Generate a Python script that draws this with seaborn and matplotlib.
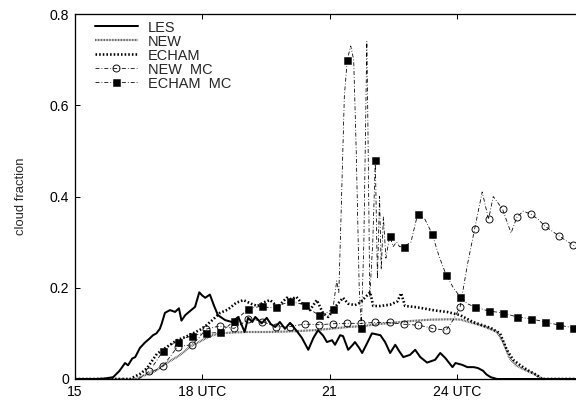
import numpy as np
import pandas as pd
import matplotlib
matplotlib.use("Agg")
import matplotlib.pyplot as plt
import seaborn as sns

# ---- data: cloud fraction vs. time (UTC hours) ----
les_t = [15.0, 15.5, 15.7, 15.9, 16.05, 16.18, 16.25, 16.35, 16.42, 16.53, 16.65, 16.75,
         16.84, 16.92, 17.0, 17.05, 17.12, 17.24, 17.36, 17.45, 17.51, 17.6, 17.7, 17.83,
         17.93, 18.0, 18.07, 18.18, 18.28, 18.37, 18.54, 18.7, 18.85, 19.0, 19.08, 19.18,
         19.25, 19.4, 19.52, 19.62, 19.72, 19.83, 19.95, 20.07, 20.23, 20.35, 20.5, 20.62,
         20.73, 20.85, 20.94, 21.06, 21.13, 21.25, 21.32, 21.44, 21.55, 21.6, 21.7, 21.77,
         21.9, 22.0, 22.1, 22.2, 22.31, 22.43, 22.55, 22.65, 22.74, 22.9, 23.02, 23.14,
         23.3, 23.49, 23.61, 23.73, 23.9, 23.97, 24.13, 24.25, 24.4, 24.5, 24.62, 24.7,
         24.8, 24.95, 27.0]
les_cf = [0.0, 0.0, 0.001, 0.004, 0.018, 0.035, 0.03, 0.045, 0.048, 0.068, 0.08, 0.088,
          0.096, 0.1, 0.11, 0.123, 0.145, 0.151, 0.147, 0.155, 0.128, 0.14, 0.148, 0.158,
          0.19, 0.183, 0.178, 0.185, 0.16, 0.14, 0.129, 0.125, 0.136, 0.103, 0.134, 0.125,
          0.136, 0.122, 0.134, 0.12, 0.114, 0.125, 0.11, 0.123, 0.105, 0.09, 0.064, 0.09,
          0.107, 0.095, 0.081, 0.085, 0.075, 0.096, 0.094, 0.064, 0.075, 0.081, 0.068, 0.057,
          0.081, 0.1, 0.098, 0.096, 0.081, 0.057, 0.075, 0.06, 0.048, 0.053, 0.064, 0.048,
          0.036, 0.042, 0.057, 0.046, 0.026, 0.035, 0.031, 0.026, 0.026, 0.024, 0.018, 0.01,
          0.004, 0.0, 0.0]

new_t = [15.0, 16.45, 16.55, 16.75, 16.9, 17.08, 17.25, 17.4, 17.55, 17.7, 17.9, 18.1,
         18.25, 18.42, 18.73, 19.05, 19.5, 20.0, 20.66, 21.0, 21.44, 21.8, 22.1, 22.48,
         22.9, 23.37, 23.92, 24.1, 24.25, 24.48, 24.7, 24.95, 25.1, 25.25, 25.4, 25.6,
         25.8, 25.95, 26.05, 27.0]
new_cf = [0.0, 0.0, 0.005, 0.012, 0.018, 0.03, 0.04, 0.048, 0.058, 0.07, 0.08, 0.09,
          0.096, 0.1, 0.102, 0.103, 0.103, 0.104, 0.107, 0.11, 0.114, 0.116, 0.12, 0.123,
          0.127, 0.13, 0.131, 0.13, 0.126, 0.12, 0.113, 0.103, 0.08, 0.045, 0.03, 0.02,
          0.012, 0.004, 0.0, 0.0]

echam_t = [15.0, 16.3, 16.4, 16.55, 16.7, 16.93, 17.16, 17.4, 17.6, 17.78, 17.95, 18.1,
           18.25, 18.42, 18.6, 18.8, 18.97, 19.15, 19.3, 19.45, 19.6, 19.78, 19.99, 20.1,
           20.22, 20.38, 20.54, 20.7, 20.85, 20.97, 21.17, 21.32, 21.44, 21.6, 21.72, 21.85,
           21.96, 22.03, 22.2, 22.43, 22.6, 22.69, 22.78, 23.0, 23.2, 23.5, 23.77, 24.08,
           24.38, 24.6, 24.8, 25.02, 25.18, 25.33, 25.5, 25.66, 25.9, 26.0, 27.0]
echam_cf = [0.0, 0.0, 0.005, 0.012, 0.024, 0.055, 0.07, 0.085, 0.092, 0.1, 0.108, 0.118,
            0.13, 0.145, 0.152, 0.167, 0.173, 0.165, 0.16, 0.168, 0.173, 0.158, 0.178, 0.175,
            0.18, 0.162, 0.151, 0.173, 0.144, 0.136, 0.162, 0.178, 0.165, 0.162, 0.167, 0.18,
            0.19, 0.16, 0.16, 0.163, 0.17, 0.188, 0.16, 0.158, 0.155, 0.15, 0.147, 0.14,
            0.125, 0.118, 0.112, 0.1, 0.064, 0.042, 0.03, 0.02, 0.008, 0.0, 0.0]

new_mc_t = [16.5, 16.75, 16.92, 17.08, 17.25, 17.42, 17.58, 17.75, 17.92, 18.08, 18.25,
            18.42, 18.6, 18.75, 18.92, 19.08, 19.25, 19.42, 19.58, 19.75, 19.92, 20.08,
            20.25, 20.42, 20.58, 20.75, 20.92, 21.08, 21.25, 21.42, 21.58, 21.75, 21.92,
            22.08, 22.25, 22.42, 22.58, 22.75, 22.92, 23.08, 23.25, 23.42, 23.58, 23.75,
            23.92, 24.08, 24.25, 24.42, 24.6, 24.75, 24.86, 25.08, 25.28, 25.42, 25.57,
            25.75, 25.92, 26.08, 26.25, 26.42, 26.58, 26.75, 27.0]
new_mc_cf = [0.0, 0.017, 0.02, 0.029, 0.05, 0.071, 0.073, 0.075, 0.09, 0.109, 0.113,
             0.116, 0.113, 0.111, 0.12, 0.132, 0.13, 0.126, 0.12, 0.114, 0.115, 0.115,
             0.118, 0.12, 0.12, 0.119, 0.12, 0.121, 0.122, 0.122, 0.122, 0.122, 0.123,
             0.124, 0.124, 0.124, 0.122, 0.12, 0.119, 0.118, 0.115, 0.111, 0.109, 0.107,
             0.13, 0.158, 0.25, 0.328, 0.41, 0.35, 0.40, 0.372, 0.32, 0.355, 0.368,
             0.361, 0.35, 0.335, 0.324, 0.313, 0.303, 0.293, 0.28]

echam_mc_t = [16.85, 17.08, 17.25, 17.42, 17.58, 17.75, 17.92, 18.08, 18.25, 18.42, 18.6,
              18.75, 18.92, 19.08, 19.25, 19.42, 19.58, 19.75, 19.92, 20.08, 20.25, 20.42,
              20.58, 20.75, 20.92, 21.08, 21.17, 21.22, 21.27, 21.35, 21.42, 21.5, 21.57,
              21.63, 21.7, 21.75, 21.81, 21.88, 21.9, 21.95, 22.02, 22.08, 22.13, 22.18,
              22.22, 22.27, 22.33, 22.42, 22.5, 22.58, 22.65, 22.75, 22.92, 23.08, 23.25,
              23.42, 23.58, 23.75, 23.92, 24.08, 24.25, 24.42, 24.75, 25.08, 25.42, 25.75,
              26.08, 26.42, 26.75, 27.0]
echam_mc_cf = [0.03, 0.062, 0.075, 0.081, 0.09, 0.094, 0.098, 0.1, 0.101, 0.103, 0.115,
               0.128, 0.14, 0.153, 0.157, 0.16, 0.156, 0.158, 0.165, 0.17, 0.166, 0.163,
               0.15, 0.14, 0.145, 0.153, 0.215, 0.19, 0.35, 0.62, 0.70, 0.73, 0.70,
               0.5, 0.2, 0.112, 0.3, 0.74, 0.6, 0.18, 0.3, 0.48, 0.22, 0.40,
               0.24, 0.355, 0.265, 0.314, 0.29, 0.3, 0.29, 0.29, 0.3, 0.362, 0.35,
               0.318, 0.27, 0.228, 0.2, 0.18, 0.165, 0.158, 0.149, 0.145, 0.136, 0.132,
               0.125, 0.118, 0.112, 0.108]

x_ticks = [15, 18, 21, 24]
x_tick_labels = ["15", "18 UTC", "21", "24 UTC"]
y_ticks = [0, 0.2, 0.4, 0.6, 0.8]
y_tick_labels = ["0", "0.2", "0.4", "0.6", "0.8"]

# ---- style ----
sns.set_style("ticks", {"xtick.direction": "in", "ytick.direction": "in"})
plt.rcParams["font.family"] = ["Liberation Sans", "DejaVu Sans"]
plt.rcParams["font.size"] = 14

fig = plt.figure(figsize=(8.0, 406 / 72), dpi=72)
ax = fig.add_axes([75 / 576, 1 - 379 / 406, (584 - 75) / 576, (379 - 14) / 406])


def mark_idx(times, start=16.75):
    """Indices of samples that fall on the 20-minute output grid."""
    k = (np.asarray(times) - start) * 3.0
    return [i for i, v in enumerate(k) if abs(v - round(v)) < 0.05 and round(v) >= 0]


def draw(t, cf, label, **kw):
    df = pd.DataFrame({"time": t, "cf": cf})
    sns.lineplot(data=df, x="time", y="cf", ax=ax, sort=False, estimator=None,
                 color="black", label=label, **kw)


draw(les_t, les_cf, "LES", linewidth=2.0, linestyle="-")
draw(new_t, new_cf, "NEW", linewidth=2.2, linestyle=(0, (0.35, 0.35)), alpha=0.75)
draw(echam_t, echam_cf, "ECHAM", linewidth=2.6, linestyle=(0, (0.6, 0.8)))
draw(new_mc_t, new_mc_cf, "NEW  MC", linewidth=0.8, linestyle=(0, (5, 2.5, 1, 2.5)),
     marker="o", markersize=7, markerfacecolor="none", markeredgecolor="black",
     markeredgewidth=0.9, markevery=mark_idx(new_mc_t))
draw(echam_mc_t, echam_mc_cf, "ECHAM  MC", linewidth=0.8, linestyle=(0, (5, 2.5, 1, 2.5)),
     marker="s", markersize=7, markerfacecolor="black", markeredgecolor="black",
     markeredgewidth=0.5, markevery=mark_idx(echam_mc_t))

ax.set_xlim(15, 27)
ax.set_ylim(0, 0.8)
ax.set_xticks(x_ticks)
ax.set_xticklabels(x_tick_labels)
ax.set_yticks(y_ticks)
ax.set_yticklabels(y_tick_labels)
ax.set_xlabel("")
ax.set_ylabel("cloud fraction", fontsize=13, labelpad=23)
ax.tick_params(axis="both", direction="in", length=5, width=1, top=True, right=False,
               labelsize=14, pad=6, colors="black")
for s in ax.spines.values():
    s.set_linewidth(1.3)
    s.set_color("black")
ax.spines["top"].set_visible(True)
ax.spines["right"].set_visible(True)

leg = ax.legend(loc="upper left", bbox_to_anchor=(0.027, 0.998), frameon=False,
                handlelength=3.0, handletextpad=0.7, labelspacing=0.0, fontsize=14.5,
                borderaxespad=0.0)

fig.savefig("out.png", dpi=72)
